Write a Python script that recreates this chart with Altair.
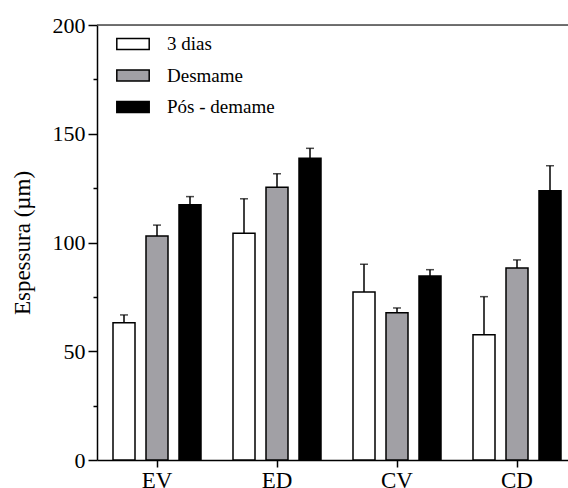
import altair as alt
import pandas as pd

categories = ["EV", "ED", "CV", "CD"]
groups = ["3 dias", "Desmame", "Pós - demame"]
means_3dias = [63.1, 104.2, 77.2, 57.6]
means_desmame = [103.0, 125.4, 67.7, 88.3]
means_pos = [117.4, 138.7, 84.6, 123.8]
err_3dias = [3.6, 15.9, 12.8, 17.5]
err_desmame = [5.0, 6.2, 2.2, 3.7]
err_pos = [3.7, 4.6, 2.9, 11.5]
colors = ["#ffffff", "#a1a0a5", "#000000"]
y_ticks = [0, 25, 50, 75, 100, 125, 150, 175, 200]
y_max = 200

rows = []
for g, means, errs in zip(groups, [means_3dias, means_desmame, means_pos],
                          [err_3dias, err_desmame, err_pos]):
    for c, m, e in zip(categories, means, errs):
        rows.append({"cat": c, "group": g, "mean": m, "top": m + e})
df = pd.DataFrame(rows)

FONT = "Liberation Serif"
W, H = 471, 435

xscale = alt.Scale(domain=categories, range=[0, 480], paddingInner=0.175, paddingOuter=0.0875)
yscale = alt.Scale(domain=[0, y_max], nice=False)

x_axis = alt.Axis(labelFont=FONT, labelFontSize=23, labelColor="black", labelAngle=0,
                  labelPadding=2, tickSize=7, tickColor="black", tickWidth=1.5,
                  domainColor="black", domainWidth=1.5, grid=False)
x_enc = alt.X("cat:N", scale=xscale, title=None, axis=x_axis)
xoff = alt.XOffset("group:N", scale=alt.Scale(domain=groups, paddingInner=1/3, paddingOuter=1/6))

y_axis = alt.Axis(values=y_ticks, orient="left", labelFont=FONT, labelFontSize=22,
                  labelExpr="datum.value % 50 === 0 ? datum.label : ''",
                  labelColor="black", labelPadding=3,
                  tickSize={"condition": {"test": "datum.value % 50 !== 0", "value": 4}, "value": 9},
                  tickColor="black", tickWidth=1.5, domainColor="black", domainWidth=1.5,
                  grid=False, titleFont=FONT, titleFontSize=23, titleFontWeight="normal",
                  titleColor="black", titleX=-75, titleY=H / 2,
                  titleBaseline="middle", titleAngle=-90)

bars = alt.Chart(df).mark_bar(stroke="black", strokeWidth=1.5).encode(
    x=x_enc,
    xOffset=xoff,
    y=alt.Y("mean:Q", scale=yscale, title="Espessura (µm)", axis=y_axis),
    fill=alt.Fill("group:N", scale=alt.Scale(domain=groups, range=colors),
                  legend=alt.Legend(title=None, orient="none", legendX=19, legendY=2,
                                    symbolType="M-1,-0.34H1V0.34H-1Z", symbolSize=1050,
                                    symbolStrokeColor="black", symbolStrokeWidth=1.5,
                                    symbolOpacity=1,
                                    labelFont=FONT, labelFontSize=19, labelColor="black",
                                    labelOffset=17, rowPadding=4.5, padding=0)),
)

errbars = alt.Chart(df).mark_rule(color="black", strokeWidth=1.5).encode(
    x=x_enc,
    xOffset=xoff,
    y=alt.Y("mean:Q", scale=yscale, title="Espessura (µm)", axis=y_axis),
    y2="top:Q",
)

caps = alt.Chart(df).mark_tick(color="black", thickness=1.5, size=8).encode(
    x=x_enc,
    xOffset=xoff,
    y=alt.Y("top:Q", scale=yscale, title="Espessura (µm)", axis=y_axis),
)

topline = alt.Chart(pd.DataFrame({"v": [y_max]})).mark_rule(color="#444444", strokeWidth=1.5).encode(
    y=alt.Y("v:Q", scale=yscale, title="Espessura (µm)", axis=y_axis),
)

chart = alt.layer(bars, errbars, caps, topline).properties(
    width=W, height=H,
    autosize=alt.AutoSizeParams(type="none"),
    padding={"left": 97, "top": 25, "right": 0, "bottom": 28},
).configure_view(stroke=None).configure(background="white")

chart.save("out.html", embed_options={"renderer": "svg", "actions": False})
